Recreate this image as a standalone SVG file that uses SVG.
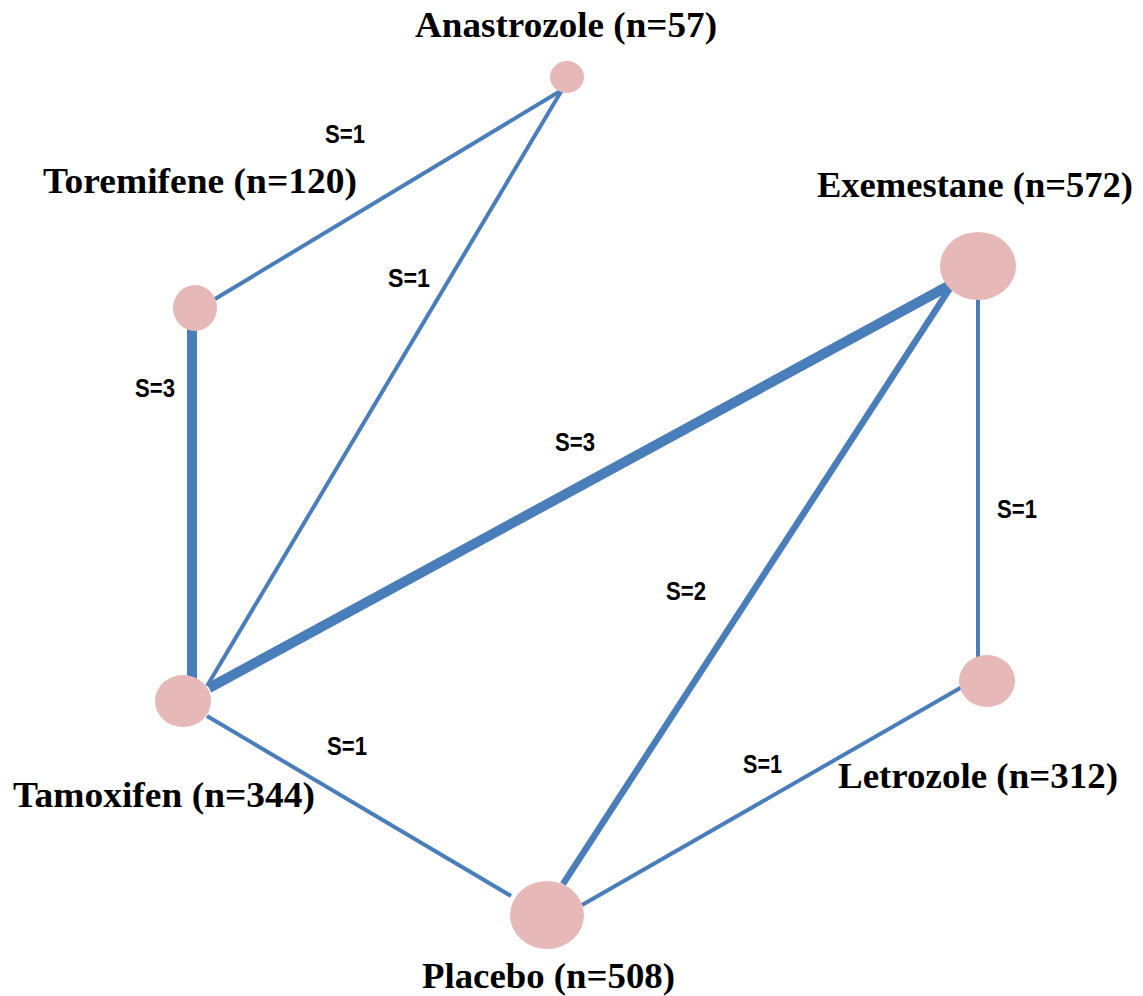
<svg xmlns="http://www.w3.org/2000/svg" width="1143" height="996" viewBox="0 0 1143 996">
<style>
.node{fill:#e6b8b7}
.e{stroke:#4a7ebb;fill:none}
.w1{stroke-width:4}
.w2{stroke-width:6.5}
.w3{stroke-width:10}
.lbl{font-family:"Liberation Serif","Times New Roman",serif;font-weight:bold;font-size:35px;fill:#000}
.s{font-family:"Liberation Sans",Arial,sans-serif;font-weight:bold;font-size:25px;fill:#000}
</style>
<rect width="1143" height="996" fill="#fff"/>
<g id="connectors">
<line class="e w1" x1="215" y1="299" x2="562" y2="90"/>
<line class="e w1" x1="562" y1="90" x2="207" y2="686"/>
<line class="e w3" x1="192" y1="328" x2="192" y2="682"/>
<line class="e w3" x1="209" y1="688" x2="952" y2="284"/>
<line class="e w2" x1="563" y1="884" x2="952" y2="285"/>
<line class="e w1" x1="978" y1="298" x2="978" y2="658"/>
<line class="e w1" x1="962" y1="687" x2="582" y2="905"/>
<line class="e w1" x1="207" y1="716" x2="511" y2="896"/>
<text class="s" x="325" y="143" textLength="40" lengthAdjust="spacingAndGlyphs">S=1</text>
<text class="s" x="388" y="287" textLength="42" lengthAdjust="spacingAndGlyphs">S=1</text>
<text class="s" x="135" y="397" textLength="40" lengthAdjust="spacingAndGlyphs">S=3</text>
<text class="s" x="555" y="451" textLength="40" lengthAdjust="spacingAndGlyphs">S=3</text>
<text class="s" x="666" y="600" textLength="40" lengthAdjust="spacingAndGlyphs">S=2</text>
<text class="s" x="997" y="518" textLength="40" lengthAdjust="spacingAndGlyphs">S=1</text>
<text class="s" x="327" y="755" textLength="40" lengthAdjust="spacingAndGlyphs">S=1</text>
<text class="s" x="743" y="773" textLength="39" lengthAdjust="spacingAndGlyphs">S=1</text>
</g>
<g id="anastrozole">
<ellipse class="node" cx="567" cy="77" rx="17" ry="16"/>
<text class="lbl" x="415" y="37" textLength="302" lengthAdjust="spacingAndGlyphs">Anastrozole (n=57)</text>
</g>
<g id="toremifene">
<ellipse class="node" cx="195" cy="308" rx="22" ry="23"/>
<text class="lbl" x="43" y="193" textLength="314" lengthAdjust="spacingAndGlyphs">Toremifene (n=120)</text>
</g>
<g id="exemestane">
<ellipse class="node" cx="978" cy="266" rx="38" ry="34"/>
<text class="lbl" x="817" y="197" textLength="316" lengthAdjust="spacingAndGlyphs">Exemestane (n=572)</text>
</g>
<g id="tamoxifen">
<ellipse class="node" cx="183" cy="701" rx="28" ry="26"/>
<text class="lbl" x="13" y="807" textLength="302" lengthAdjust="spacingAndGlyphs">Tamoxifen (n=344)</text>
</g>
<g id="placebo">
<ellipse class="node" cx="547" cy="915" rx="37" ry="34"/>
<text class="lbl" x="422" y="988" textLength="253" lengthAdjust="spacingAndGlyphs">Placebo (n=508)</text>
</g>
<g id="letrozole">
<ellipse class="node" cx="987" cy="681" rx="28" ry="26"/>
<text class="lbl" x="838" y="788" textLength="280" lengthAdjust="spacingAndGlyphs">Letrozole (n=312)</text>
</g>
</svg>
